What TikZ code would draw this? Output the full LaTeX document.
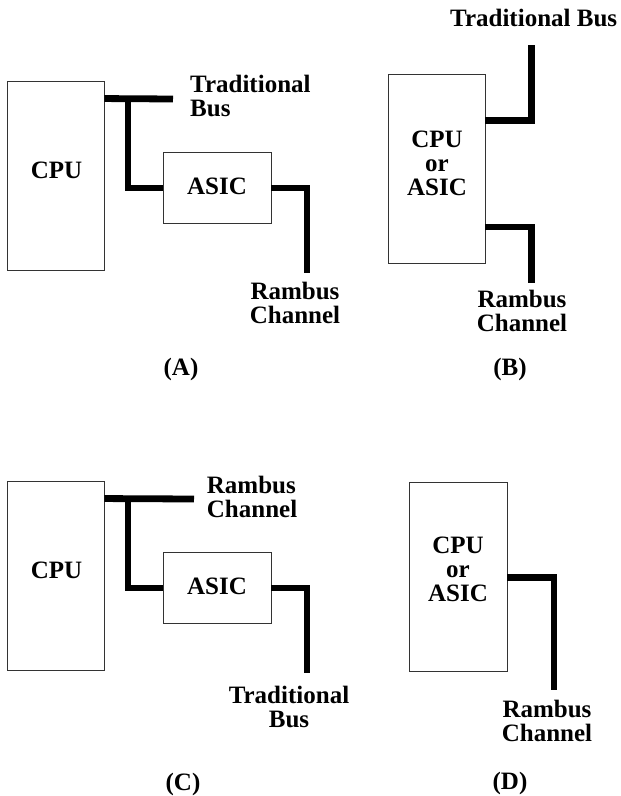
\documentclass[tikz,border=0pt]{standalone}
\usepackage{fontspec}
\setmainfont{Liberation Serif}
\tikzset{
  box/.style={draw=black!80, line width=0.9pt, inner sep=0pt},
  lbl/.style={font=\fontsize{25}{24}\selectfont\bfseries, inner sep=0pt},
  bus/.style={line width=6.8pt, line cap=butt, line join=miter}
}
\begin{document}
\begin{tikzpicture}[x=1pt,y=-1pt]
\useasboundingbox (0,0) rectangle (621,796);
% ---------- Panel A ----------
\node[box, minimum width=97pt, minimum height=189pt] (cpuA) at (55.5,175.5) {};
\node[lbl, anchor=base] (cpuAt) at (56.5,178.3) {CPU};
\node[box, minimum width=108pt, minimum height=70.5pt] (asicA) at (217,188) {};
\node[lbl, anchor=base] (asicAt) at (217,194) {ASIC};
\coordinate (a2) at (173,99);
\coordinate (a3) at (128,99);
\coordinate (a5) at (307,273);
\draw[bus] ([yshift=-18pt]cpuA.north east) -- (a2);
\draw[bus] (a3) |- (asicA.west);
\draw[bus] (asicA.east) -| (a5);
\node[lbl, anchor=base west, align=left] (tbA) at (190,116.7) {Traditional\\Bus};
\node[lbl, anchor=base, align=center] (rcA) at (295,323) {Rambus\\Channel};
\node[lbl, anchor=base] (capA) at (181,375) {(A)};
% ---------- Panel B ----------
\node[box, minimum width=97pt, minimum height=189pt] (cpuB) at (436.5,168.5) {};
\node[lbl, anchor=base, align=center] (cpuBt) at (437,195.5) {CPU\\or\\ASIC};
\coordinate (b1) at (531.5,45);
\coordinate (b2) at (531.5,283);
\draw[bus] ([yshift=-47pt]cpuB.north east) -| (b1);
\draw[bus] ([yshift=-153.5pt]cpuB.north east) -| (b2);
\node[lbl, anchor=base west] (tbB) at (450,26) {Traditional Bus};
\node[lbl, anchor=base, align=center] (rcB) at (522,331.5) {Rambus\\Channel};
\node[lbl, anchor=base] (capB) at (510,375) {(B)};
% ---------- Panel C ----------
\node[box, minimum width=97pt, minimum height=189pt] (cpuC) at (55.5,575.5) {};
\node[lbl, anchor=base] (cpuCt) at (56.5,578.3) {CPU};
\node[box, minimum width=108pt, minimum height=70.5pt] (asicC) at (217,588) {};
\node[lbl, anchor=base] (asicCt) at (217,594) {ASIC};
\coordinate (c2) at (194,499);
\coordinate (c3) at (128,499);
\coordinate (c5) at (307,673);
\draw[bus] ([yshift=-18pt]cpuC.north east) -- (c2);
\draw[bus] (c3) |- (asicC.west);
\draw[bus] (asicC.east) -| (c5);
\node[lbl, anchor=base west, align=left] (rcC) at (206.7,517) {Rambus\\Channel};
\node[lbl, anchor=base, align=center] (tbC) at (289,727) {Traditional\\Bus};
\node[lbl, anchor=base] (capC) at (183,790) {(C)};
% ---------- Panel D ----------
\node[box, minimum width=98pt, minimum height=189pt] (cpuD) at (458,576.5) {};
\node[lbl, anchor=base, align=center] (cpuDt) at (458,601.7) {CPU\\or\\ASIC};
\coordinate (d1) at (554,690);
\draw[bus] ([yshift=-96pt]cpuD.north east) -| (d1);
\node[lbl, anchor=base, align=center] (rcD) at (547,741) {Rambus\\Channel};
\node[lbl, anchor=base] (capD) at (510,789) {(D)};
\end{tikzpicture}
\end{document}
